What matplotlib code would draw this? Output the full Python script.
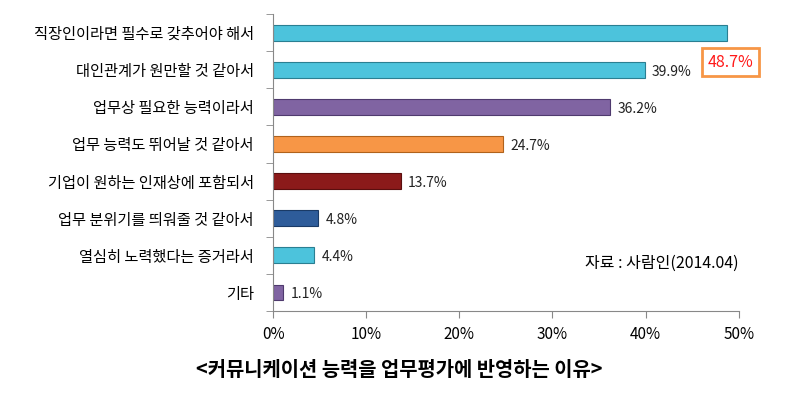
import matplotlib.pyplot as plt
import numpy as np

plt.rcParams['font.family'] = ['Noto Sans CJK KR', 'DejaVu Sans']

# 데이터
labels = ['직장인이라면 필수로 갖추어야 해서', '대인관계가 원만할 것 같아서', '업무상 필요한 능력이라서',
          '업무 능력도 뛰어날 것 같아서', '기업이 원하는 인재상에 포함되서', '업무 분위기를 띄워줄 것 같아서',
          '열심히 노력했다는 증거라서', '기타']
values = [48.7, 39.9, 36.2, 24.7, 13.7, 4.8, 4.4, 1.1]
colors = ['#4cc3dc', '#4cc3dc', '#8064a2', '#f79646', '#8b1a1a', '#2e5c9a', '#4cc3dc', '#8064a2']
edges = ['#2a7f92', '#2a7f92', '#4f3a6e', '#b0621c', '#5a0e0e', '#1a3a66', '#2a7f92', '#4f3a6e']
xticks = [0, 10, 20, 30, 40, 50]

fig = plt.figure(figsize=(7.85, 3.94), dpi=100)
ax = fig.add_axes([0.348, 0.211, 0.593, 0.753])

y = np.arange(len(labels))
ax.barh(y, values, height=0.42, color=colors, edgecolor=edges, linewidth=0.8)
ax.set_ylim(len(labels) - 0.5, -0.5)
ax.set_xlim(0, 50)

ax.set_yticks(y)
ax.set_yticklabels(labels, fontsize=11)
ax.set_yticks(np.arange(-0.5, len(labels), 1), minor=True)
ax.tick_params(axis='y', which='major', length=0, pad=14)
ax.tick_params(axis='y', which='minor', length=5, color='#888888')
ax.set_xticks(xticks)
ax.set_xticklabels([f'{t}%' for t in xticks], fontsize=11)
ax.tick_params(axis='x', length=5, color='#888888', pad=6)

for s in ['top', 'right']:
    ax.spines[s].set_visible(False)
for s in ['left', 'bottom']:
    ax.spines[s].set_color('#888888')

for i, v in enumerate(values):
    if i == 0:
        ax.text(49.1, 0.8, f'{v}%', fontsize=11.5, color='#ff1a1a', ha='center', va='center',
                bbox=dict(boxstyle='square,pad=0.35', fc='white', ec='#f79646', lw=2))
    else:
        ax.text(v + 0.8, i + 0.05, f'{v}%', fontsize=10, va='center', ha='left', color='#222222')

ax.text(1.0, 0.16, '자료 : 사람인(2014.04)', transform=ax.transAxes, fontsize=11.5, ha='right', va='center')

fig.text(0.509, 0.062, '<커뮤니케이션 능력을 업무평가에 반영하는 이유>', fontsize=14.3, fontweight='bold',
         ha='center', va='center')

fig.savefig('out.png', dpi=100)
